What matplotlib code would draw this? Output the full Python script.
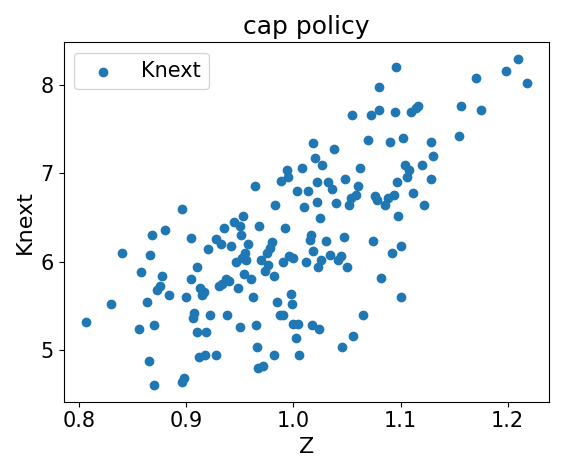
import matplotlib
matplotlib.use("Agg")
import matplotlib.pyplot as plt

pts = [(0.806,5.32),(0.83,5.52),(0.84,6.1),(0.856,5.24),(0.858,5.88),(0.863,5.54),(0.865,4.88),(0.866,6.08),(0.868,6.3),(0.87,4.6),(0.87,5.28),(0.873,5.68),(0.875,5.73),(0.877,5.84),(0.88,6.36),(0.884,5.62),(0.896,6.6),(0.896,4.64),(0.898,4.68),(0.9,5.6),(0.904,6.27),(0.904,5.8),(0.906,5.36),(0.907,5.42),(0.91,5.94),(0.91,5.2),(0.912,4.92),(0.913,5.7),(0.915,5.62),(0.916,5.66),(0.917,4.94),(0.918,5.2),(0.92,6.14),(0.922,5.4),(0.928,4.94),(0.928,6.26),(0.93,5.72),(0.932,6.2),(0.933,5.75),(0.935,6.38),(0.937,5.8),(0.938,5.4),(0.94,5.78),(0.942,6.18),(0.944,6.45),(0.946,6.0),(0.948,5.7),(0.95,5.26),(0.95,6.4),(0.951,6.3),(0.952,6.04),(0.953,6.52),(0.954,5.86),(0.955,6.1),(0.956,6.02),(0.958,6.2),(0.96,5.8),(0.962,5.6),(0.964,6.86),(0.965,5.28),(0.966,5.04),(0.967,4.8),(0.968,6.4),(0.97,6.02),(0.972,4.82),(0.973,5.9),(0.975,6.1),(0.976,5.96),(0.978,6.16),(0.98,6.22),(0.982,4.94),(0.982,5.84),(0.983,6.64),(0.985,5.54),(0.987,5.4),(0.988,6.92),(0.99,6.0),(0.99,5.4),(0.992,6.38),(0.994,7.04),(0.995,6.96),(0.996,6.06),(0.998,5.64),(0.999,5.52),(1.0,6.04),(1.0,5.3),(1.002,5.14),(1.003,6.8),(1.004,5.3),(1.005,4.94),(1.008,7.06),(1.01,6.62),(1.012,6.0),(1.014,6.8),(1.015,6.25),(1.016,6.3),(1.017,5.28),(1.018,6.12),(1.018,7.34),(1.02,7.18),(1.022,6.68),(1.022,6.9),(1.023,5.94),(1.024,5.24),(1.025,6.5),(1.026,6.02),(1.027,7.1),(1.03,6.24),(1.032,6.9),(1.034,6.08),(1.036,6.82),(1.038,7.28),(1.04,6.66),(1.042,6.02),(1.044,6.06),(1.045,5.04),(1.047,6.28),(1.048,6.94),(1.05,5.94),(1.052,6.64),(1.054,6.72),(1.055,7.66),(1.056,5.16),(1.058,6.76),(1.06,6.86),(1.062,7.06),(1.065,5.4),(1.07,7.38),(1.072,7.66),(1.074,6.24),(1.076,6.74),(1.078,6.7),(1.08,7.72),(1.08,7.98),(1.082,5.82),(1.085,6.64),(1.088,6.72),(1.09,7.36),(1.092,6.1),(1.094,6.76),(1.095,7.7),(1.096,8.2),(1.097,6.9),(1.098,6.52),(1.1,6.18),(1.1,5.6),(1.102,7.4),(1.104,7.1),(1.106,6.96),(1.108,7.04),(1.11,7.7),(1.112,6.78),(1.114,7.74),(1.116,7.76),(1.12,7.1),(1.122,6.64),(1.128,7.36),(1.13,7.2),(1.128,6.94),(1.155,7.42),(1.156,7.76),(1.17,8.08),(1.175,7.72),(1.198,8.16),(1.21,8.3),(1.218,8.02)]
Z = [p[0] for p in pts]
Knext = [p[1] for p in pts]

fig, ax = plt.subplots(figsize=(5.64, 4.72), dpi=100)
ax.scatter(Z, Knext, label="Knext")
ax.set_title("cap policy", fontsize=18)
ax.set_xlabel("Z", fontsize=16)
ax.set_ylabel("Knext", fontsize=16)
ax.tick_params(labelsize=15)
ax.set_xticks([0.8, 0.9, 1.0, 1.1, 1.2])
ax.set_yticks([5, 6, 7, 8])
ax.legend(loc="upper left", fontsize=15)
fig.tight_layout()
fig.savefig("out.png")
